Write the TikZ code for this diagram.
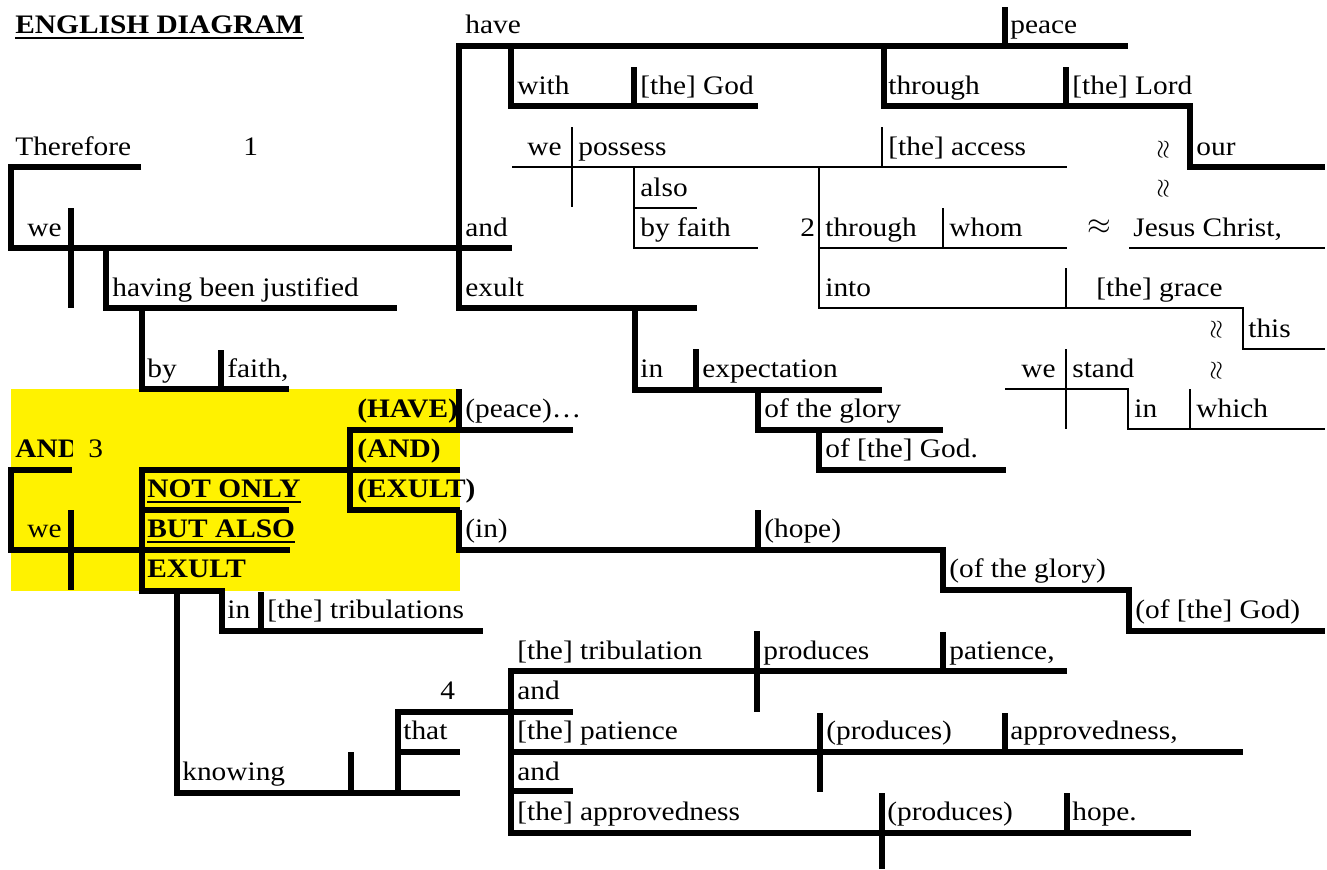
\documentclass[tikz,border=0pt]{standalone}
\usepackage{fontspec}
\setmainfont{Liberation Serif}[FakeStretch=1.1]
\tikzset{
  heavy/.style={line width=2.9pt},
  light/.style={line width=1.6pt},
  word/.style={anchor=base west,inner sep=0pt},
  bword/.style={word,font=\fontsize{15.2}{18}\selectfont\bfseries},
  uline/.style={line width=1.1pt},
  same/.style={inner sep=0pt,font=\fontsize{16}{18}\selectfont},
  samev/.style={inner sep=0pt,rotate=90,font=\fontsize{15}{17}\selectfont},
}
\begin{document}
\begin{tikzpicture}[x=0.02cm,y=-0.02cm,font=\fontsize{15.2}{18}\selectfont,line join=miter]
        \useasboundingbox (0,0) rectangle (1327,869);
        \fill[yellow] (11,389) rectangle (460,591);
        \node[bword] (title) at (15,33) {ENGLISH DIAGRAM};
        \draw[uline] ([yshift=-2.8pt]title.base west) -- ([yshift=-2.8pt]title.base east);
        \node[word] (therefore) at (15,155) {Therefore};
        \node[word] (num1) at (243,155) {1};
        \node[word] (we1) at (27,236) {we};
        \node[word] (justified) at (112,296) {having been justified};
        \node[word] (by1) at (147,377) {by};
        \node[word] (faith1) at (227,377) {faith,};
        \node[word] (have1) at (465,33) {have};
        \node[word] (peace1) at (1010,33) {peace};
        \node[word] (with) at (517,94) {with};
        \node[word] (god1) at (640,94) {[the] God};
        \node[word] (through1) at (888,94) {through};
        \node[word] (lord) at (1072,94) {[the] Lord};
        \node[word] (we2) at (527,155) {we};
        \node[word] (possess) at (578,155) {possess};
        \node[word] (access) at (888,155) {[the] access};
        \node[samev] (wr1) at (1164,150) {$\approx$};
        \node[word] (our) at (1196,155) {our};
        \node[word] (also) at (640,196) {also};
        \node[samev] (wr2) at (1164,189) {$\approx$};
        \node[word] (and1) at (465,236) {and};
        \node[word] (byfaith) at (640,236) {by faith};
        \node[word] (num2) at (800,236) {2};
        \node[word] (through2) at (825,236) {through};
        \node[word] (whom) at (949,236) {whom};
        \node[same] (approx) at (1099,227) {$\approx$};
        \node[word] (jesus) at (1133,236) {Jesus Christ,};
        \node[word] (exult1) at (465,296) {exult};
        \node[word] (into) at (825,296) {into};
        \node[word] (grace) at (1096,296) {[the] grace};
        \node[samev] (wr3) at (1217,330) {$\approx$};
        \node[word] (this) at (1248,337) {this};
        \node[word] (in1) at (640,377) {in};
        \node[word] (expectation) at (702,377) {expectation};
        \node[word] (we3) at (1021,377) {we};
        \node[word] (stand) at (1072,377) {stand};
        \node[samev] (wr4) at (1217,371) {$\approx$};
        \node[bword] (have2) at (357,417) {(HAVE)};
        \node[word] (peace2) at (465,417) {(peace)…};
        \node[word] (glory1) at (764,417) {of the glory};
        \node[word] (in2) at (1134,417) {in};
        \node[word] (which) at (1196,417) {which};
        \begin{scope}
          \clip (0,425) rectangle (72,470);
          \node[bword] (and2) at (15,457) {AND};
        \end{scope}
        \node[word] (num3) at (88,457) {3};
        \node[bword] (and3) at (357,457) {(AND)};
        \node[word] (god2) at (825,457) {of [the] God.};
        \node[bword] (notonly) at (147,497) {NOT ONLY};
        \draw[uline] ([yshift=-2.6pt]notonly.base west) -- ([yshift=-2.6pt]notonly.base east);
        \node[bword] (exult2) at (357,497) {(EXULT)};
        \node[word] (we4) at (27,537) {we};
        \node[bword] (butalso) at (147,537) {BUT ALSO};
        \draw[uline] ([yshift=-2.6pt]butalso.base west) -- ([yshift=-2.6pt]butalso.base east);
        \node[word] (in3) at (465,537) {(in)};
        \node[word] (hope1) at (764,537) {(hope)};
        \node[bword] (exult3) at (147,577) {EXULT};
        \node[word] (glory2) at (949,577) {(of the glory)};
        \node[word] (in4) at (227,618) {in};
        \node[word] (tribs) at (267,618) {[the] tribulations};
        \node[word] (god3) at (1135,618) {(of [the] God)};
        \node[word] (trib) at (517,659) {[the] tribulation};
        \node[word] (produces1) at (763,659) {produces};
        \node[word] (patience1) at (949,659) {patience,};
        \node[word] (num4) at (440,699) {4};
        \node[word] (and4) at (517,699) {and};
        \node[word] (that) at (403,739) {that};
        \node[word] (patience2) at (517,739) {[the] patience};
        \node[word] (produces2) at (826,739) {(produces)};
        \node[word] (approved1) at (1010,739) {approvedness,};
        \node[word] (knowing) at (182,780) {knowing};
        \node[word] (and5) at (517,780) {and};
        \node[word] (approved2) at (517,820) {[the] approvedness};
        \node[word] (produces3) at (887,820) {(produces)};
        \node[word] (hope2) at (1072,820) {hope.};
        \draw[heavy] (141,167) -- (11,167) -- (11,248) -- (512,248);
        \draw[heavy] (71,208) -- (71,308);
        \draw[heavy] (106,248) -- (106,308) -- (397,308);
        \draw[heavy] (142,308) -- (142,389) -- (289,389);
        \draw[heavy] (221,350) -- (221,389);
        \draw[heavy] (697,308) -- (459,308) -- (459,46) -- (1128,46);
        \draw[heavy] (1005,7) -- (1005,46);
        \draw[heavy] (511,46) -- (511,106) -- (758,106);
        \draw[heavy] (634,67) -- (634,106);
        \draw[heavy] (884,46) -- (884,106) -- (1190,106) -- (1190,167) -- (1325,167);
        \draw[heavy] (1066,67) -- (1066,106);
        \draw[heavy] (635,308) -- (635,390) -- (882,390);
        \draw[heavy] (696,349) -- (696,390);
        \draw[heavy] (758,390) -- (758,430) -- (943,430);
        \draw[heavy] (819,430) -- (819,470) -- (1006,470);
        \draw[heavy] (459,389) -- (459,430);
        \draw[heavy] (573,430) -- (350,430) -- (350,510) -- (460,510);
        \draw[heavy] (460,470) -- (142,470) -- (142,591) -- (222,591) -- (222,631) -- (483,631);
        \draw[heavy] (261,592) -- (261,631);
        \draw[heavy] (142,510) -- (289,510);
        \draw[heavy] (72,470) -- (11,470) -- (11,550) -- (290,550);
        \draw[heavy] (71,510) -- (71,590);
        \draw[heavy] (459,510) -- (459,550) -- (943,550) -- (943,590) -- (1129,590) -- (1129,631) -- (1325,631);
        \draw[heavy] (758,510) -- (758,550);
        \draw[heavy] (177,591) -- (177,793) -- (460,793);
        \draw[heavy] (351,752) -- (351,793);
        \draw[heavy] (398,793) -- (398,712) -- (573,712);
        \draw[heavy] (398,752) -- (460,752);
        \draw[heavy] (1067,671) -- (511,671) -- (511,833) -- (1191,833);
        \draw[heavy] (757,631) -- (757,712);
        \draw[heavy] (943,632) -- (943,671);
        \draw[heavy] (511,752) -- (1243,752);
        \draw[heavy] (820,713) -- (820,792);
        \draw[heavy] (1005,713) -- (1005,752);
        \draw[heavy] (511,791) -- (573,791);
        \draw[heavy] (882,793) -- (882,869);
        \draw[heavy] (1067,793) -- (1067,833);
        \draw[light] (512,167) -- (1067,167);
        \draw[light] (572,127) -- (572,207);
        \draw[light] (882,127) -- (882,167);
        \draw[light] (634,167) -- (634,248) -- (758,248);
        \draw[light] (634,208) -- (697,208);
        \draw[light] (819,167) -- (819,308) -- (1243,308) -- (1243,349) -- (1325,349);
        \draw[light] (819,248) -- (1067,248);
        \draw[light] (943,208) -- (943,248);
        \draw[light] (1066,268) -- (1066,308);
        \draw[light] (1129,248) -- (1325,248);
        \draw[light] (1005,389) -- (1128,389) -- (1128,429) -- (1325,429);
        \draw[light] (1066,349) -- (1066,429);
        \draw[light] (1190,389) -- (1190,429);
\end{tikzpicture}
\end{document}
